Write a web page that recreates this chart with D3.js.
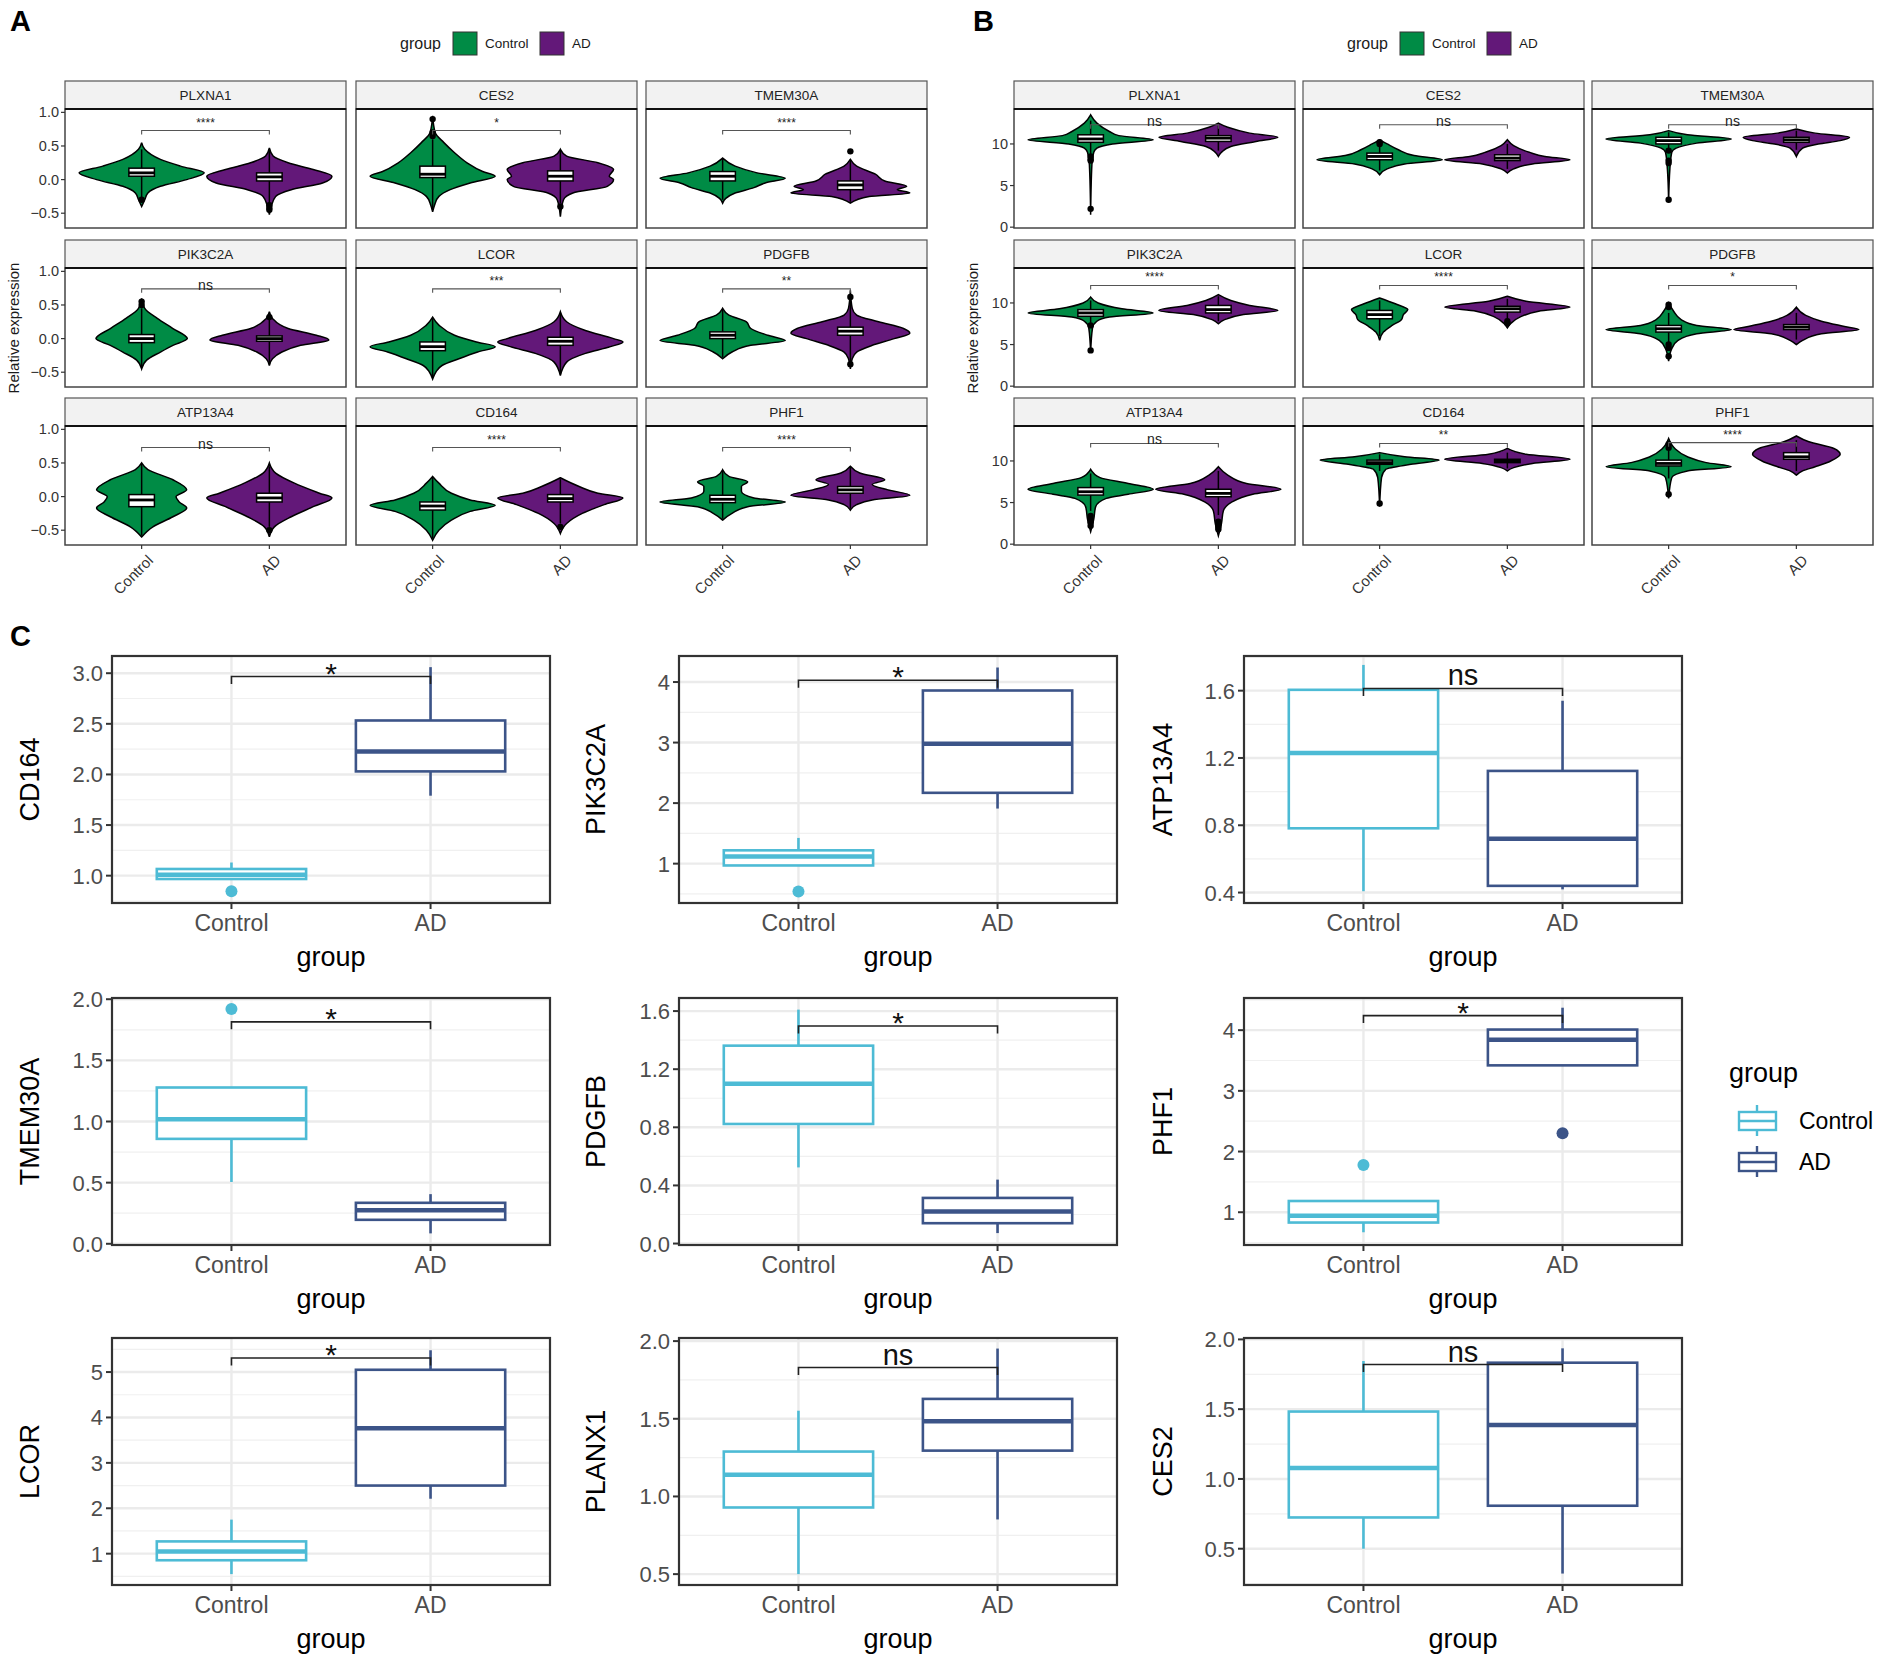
<!DOCTYPE html>
<html><head><meta charset="utf-8">
<script src="https://cdn.jsdelivr.net/npm/d3@7"></script>
<style>body{margin:0;background:#fff} text{font-family:"Liberation Sans",Arial,Helvetica,sans-serif}</style>
</head><body><script>
// ---------------- DATA ----------------
const groups = ["Control","AD"];
const genesAB = ["PLXNA1","CES2","TMEM30A","PIK3C2A","LCOR","PDGFB","ATP13A4","CD164","PHF1"];
const sigA = ["****","*","****","ns","***","**","ns","****","****"];
const sigB = ["ns","ns","ns","****","****","*","ns","**","****"];
const bracketA = [0.73,0.73,0.73,0.74,0.74,0.74,0.73,0.73,0.73];
const bracketB = [12.3,12.3,12.3,12.1,12.1,12.1,12.1,12.1,12.2];
const ticksA = [-0.5,0,0.5,1.0];
const tickLabelsA = ["\u22120.5","0.0","0.5","1.0"];
const ticksB = [0,5,10];
const tickLabelsB = ["0","5","10"];
const domainA = [-0.72,1.05];
const domainB = [-0.1,14.2];

// violin profiles: [value, relative half-width]
const A_ctrlViolin = [
 [[0.55,0],[0.45,0.05],[0.3,0.3],[0.2,0.62],[0.1,1],[0,0.72],[-0.1,0.3],[-0.2,0.1],[-0.3,0.05],[-0.4,0]],
 [[0.95,0],[0.7,0.04],[0.55,0.18],[0.4,0.35],[0.25,0.55],[0.12,0.8],[0.05,1],[-0.05,0.6],[-0.15,0.28],[-0.25,0.1],[-0.38,0.03],[-0.48,0]],
 [[0.32,0],[0.2,0.2],[0.1,0.55],[0.02,1],[-0.05,0.68],[-0.12,0.5],[-0.2,0.2],[-0.28,0.05],[-0.35,0]],
 [[0.6,0],[0.45,0.05],[0.3,0.25],[0.15,0.5],[0,0.73],[-0.1,0.5],[-0.2,0.3],[-0.32,0.08],[-0.45,0]],
 [[0.32,0],[0.2,0.1],[0.05,0.35],[-0.05,0.7],[-0.12,1],[-0.2,0.72],[-0.3,0.42],[-0.4,0.15],[-0.5,0.05],[-0.6,0]],
 [[0.45,0],[0.35,0.1],[0.25,0.38],[0.15,0.45],[0.05,0.72],[-0.03,1],[-0.1,0.45],[-0.2,0.15],[-0.3,0]],
 [[0.5,0],[0.4,0.1],[0.25,0.5],[0.1,0.72],[0,0.55],[-0.08,0.6],[-0.17,0.72],[-0.3,0.5],[-0.45,0.18],[-0.6,0]],
 [[0.3,0],[0.2,0.1],[0.05,0.3],[-0.05,0.6],[-0.13,1],[-0.22,0.6],[-0.35,0.3],[-0.5,0.1],[-0.65,0]],
 [[0.4,0],[0.3,0.1],[0.22,0.4],[0.15,0.3],[0.08,0.3],[-0.02,0.5],[-0.08,1],[-0.15,0.4],[-0.25,0.15],[-0.35,0]]
];
const A_adViolin = [
 [[0.47,0],[0.35,0.06],[0.25,0.3],[0.15,0.7],[0.05,1],[-0.05,0.85],[-0.15,0.35],[-0.25,0.1],[-0.4,0.03],[-0.52,0]],
 [[0.45,0],[0.35,0.1],[0.25,0.6],[0.15,0.85],[0.05,0.78],[0,0.85],[-0.1,0.75],[-0.2,0.2],[-0.3,0.05],[-0.55,0]],
 [[0.3,0],[0.2,0.1],[0.08,0.4],[-0.02,0.55],[-0.1,0.9],[-0.15,0.75],[-0.2,0.95],[-0.25,0.3],[-0.35,0]],
 [[0.4,0],[0.3,0.05],[0.15,0.3],[0.05,0.75],[-0.02,0.95],[-0.1,0.5],[-0.2,0.2],[-0.3,0.05],[-0.4,0]],
 [[0.4,0],[0.25,0.1],[0.12,0.4],[0,0.85],[-0.05,1],[-0.12,0.8],[-0.22,0.4],[-0.35,0.1],[-0.55,0]],
 [[0.72,0],[0.45,0.03],[0.35,0.1],[0.25,0.45],[0.15,0.85],[0.08,0.95],[0,0.7],[-0.1,0.35],[-0.2,0.1],[-0.3,0.03],[-0.45,0]],
 [[0.5,0],[0.35,0.1],[0.2,0.4],[0.05,0.8],[-0.02,1],[-0.15,0.7],[-0.3,0.35],[-0.45,0.08],[-0.6,0]],
 [[0.28,0],[0.15,0.3],[0.05,0.6],[-0.02,1],[-0.12,0.7],[-0.25,0.35],[-0.4,0.1],[-0.55,0]],
 [[0.45,0],[0.35,0.15],[0.25,0.55],[0.18,0.35],[0.1,0.6],[0.02,0.95],[-0.05,0.35],[-0.12,0.1],[-0.2,0]]
];
// box stats: [lower whisker, q1, median, q3, upper whisker]
const A_ctrlBox = [[-0.28,0.05,0.1,0.17,0.45],[-0.45,0.03,0.08,0.2,0.6],[-0.3,-0.02,0.05,0.12,0.3],[-0.42,-0.06,0,0.06,0.45],[-0.58,-0.18,-0.12,-0.05,0.3],[-0.28,0,0.05,0.1,0.43],[-0.58,-0.15,-0.05,0.03,0.48],[-0.62,-0.2,-0.14,-0.08,0.28],[-0.33,-0.09,-0.04,0.02,0.38]];
const A_adBox = [[-0.35,-0.02,0.04,0.1,0.45],[-0.35,-0.02,0.05,0.13,0.43],[-0.33,-0.15,-0.08,-0.02,0.3],[-0.38,-0.04,0,0.04,0.3],[-0.53,-0.1,-0.04,0.02,0.38],[-0.35,0.05,0.11,0.17,0.6],[-0.45,-0.08,-0.02,0.05,0.45],[-0.4,-0.08,-0.03,0.03,0.26],[-0.18,0.05,0.1,0.15,0.43]];
const A_ctrlOut = [[-0.3],[0.65,0.7,0.9],[],[0.5,0.55],[],[],[],[],[]];
const A_adOut = [[-0.38,-0.42,-0.45],[-0.4],[0.42],[0.32],[],[0.62,-0.38],[-0.5],[-0.45],[]];

const B_ctrlViolin = [
 [[13.5,0],[12.5,0.1],[11.5,0.3],[11,0.45],[10.5,1],[10,0.35],[9.5,0.1],[9,0.05],[7.5,0.02],[1.5,0]],
 [[10.5,0],[10,0.12],[9.3,0.3],[8.6,0.55],[8.1,1],[7.6,0.4],[7,0.12],[6.3,0]],
 [[11.6,0],[11.1,0.3],[10.6,1],[10.1,0.45],[9.5,0.12],[9,0.05],[7,0.02],[3,0]],
 [[10.7,0],[10,0.12],[9.3,0.5],[8.8,1],[8.3,0.3],[7.8,0.1],[7,0.03],[4,0]],
 [[10.6,0],[9.9,0.25],[9.2,0.45],[8.6,0.38],[8,0.35],[7.3,0.2],[6.5,0.06],[5.5,0]],
 [[10,0],[9,0.08],[8,0.2],[7.3,0.45],[6.8,1],[6.3,0.45],[5.5,0.15],[4.5,0.05],[3,0]],
 [[9,0],[8,0.15],[7.3,0.6],[6.6,1],[6,0.6],[5.5,0.25],[4.5,0.08],[3,0.05],[1.5,0]],
 [[11,0],[10.5,0.4],[10.1,0.95],[9.6,0.5],[9,0.1],[8,0.03],[4.5,0]],
 [[12.7,0],[11.5,0.1],[10.5,0.3],[9.8,0.6],[9.3,1],[8.8,0.3],[8,0.05],[5.5,0]]
];
const B_adViolin = [
 [[12.5,0],[12,0.15],[11.3,0.5],[10.8,0.95],[10.3,0.6],[9.7,0.2],[9,0.05],[8.5,0]],
 [[10.5,0],[9.8,0.1],[9,0.35],[8.5,0.6],[8.1,1],[7.6,0.4],[7,0.1],[6.5,0]],
 [[11.8,0],[11.3,0.3],[10.8,0.85],[10.4,0.7],[10,0.35],[9.5,0.1],[8.5,0]],
 [[11,0],[10.3,0.2],[9.7,0.5],[9.1,0.95],[8.6,0.4],[8,0.1],[7.5,0]],
 [[10.8,0],[10.2,0.3],[9.5,1],[9,0.5],[8.3,0.2],[7.5,0.05],[7,0]],
 [[9.5,0],[8.5,0.15],[7.8,0.4],[7.2,0.75],[6.8,1],[6.3,0.4],[5.5,0.1],[5,0]],
 [[9.3,0],[8.3,0.15],[7.3,0.45],[6.6,1],[6,0.55],[5,0.2],[4,0.08],[2.5,0.05],[1,0]],
 [[11.5,0],[10.8,0.3],[10.2,1],[9.7,0.4],[9.2,0.1],[8.8,0]],
 [[13,0],[12.3,0.2],[11.5,0.6],[10.8,0.7],[10,0.55],[9.3,0.3],[8.8,0.1],[8.3,0]]
];
const B_ctrlBox = [[8.5,10.2,10.6,11.1,12.8],[6.8,8.1,8.5,8.9,10],[9.4,10.0,10.4,10.8,11.4],[7.6,8.4,8.8,9.2,10.3],[6,8.1,8.6,9.1,10.3],[5.3,6.5,6.9,7.3,8.8],[4,5.9,6.3,6.8,8.5],[8.8,9.6,9.8,10.1,10.8],[7.9,9.4,9.7,10.1,11.3]];
const B_adBox = [[9.2,10.3,10.7,11,12.2],[7,8.0,8.3,8.7,10],[9.3,10.2,10.5,10.8,11.6],[7.8,8.8,9.2,9.7,10.8],[7.8,8.9,9.3,9.6,10.5],[5.6,6.8,7.1,7.4,8.8],[3.5,5.7,6.1,6.6,8.8],[9.1,9.8,10.0,10.2,11],[8.8,10.2,10.5,11,12.5]];
const B_ctrlOut = [[8.0,8.2,8.5,2.2],[10.2,10.0],[9.2,8.0,7.7,3.3],[7.3,4.3],[],[9.5,9.8,5.0,4.6,3.6],[2.2,2.6,3.0,3.4],[4.9],[6.0,11.6,12.0]];
const B_adOut = [[],[],[],[],[7.6,7.8],[],[1.8,2.1,2.4,2.7],[],[]];

// Panel C boxplots
const genesC = ["CD164","PIK3C2A","ATP13A4","TMEM30A","PDGFB","PHF1","LCOR","PLANX1","CES2"];
const sigC = ["*","*","ns","*","*","*","*","ns","ns"];
const C_ctrlBox = [[0.967,0.967,1.01,1.066,1.13],[0.97,0.97,1.12,1.22,1.425],[0.408,0.782,1.23,1.605,1.753],[0.505,0.858,1.018,1.278,1.278],[0.524,0.823,1.099,1.362,1.61],[0.67,0.83,0.94,1.185,1.185],[0.55,0.855,1.05,1.27,1.75],[0.5,0.929,1.14,1.289,1.552],[0.5,0.724,1.078,1.483,1.845]];
const C_adBox = [[1.79,2.03,2.227,2.533,3.06],[1.91,2.17,2.98,3.86,4.24],[0.419,0.44,0.72,1.123,1.54],[0.085,0.196,0.274,0.335,0.406],[0.072,0.14,0.22,0.314,0.44],[3.42,3.42,3.84,4.01,4.37],[2.21,2.5,3.76,5.05,5.48],[0.852,1.295,1.484,1.628,1.952],[0.322,0.808,1.387,1.833,1.936]];
const C_ctrlOut = [[0.845],[0.54],[],[1.92],[],[1.78],[],[],[]];
const C_adOut = [[],[],[],[],[],[2.3],[],[],[]];
const C_bracket = [2.967,4.03,1.613,1.815,1.497,4.24,5.31,1.83,1.82];
const C_domain = [[0.73,3.17],[0.35,4.43],[0.338,1.806],[-0.01,2.01],[-0.01,1.69],[0.46,4.53],[0.31,5.75],[0.43,2.02],[0.24,2.01]];
const C_ticks = [[1,1.5,2,2.5,3],[1,2,3,4],[0.4,0.8,1.2,1.6],[0,0.5,1,1.5,2],[0,0.4,0.8,1.2,1.6],[1,2,3,4],[1,2,3,4,5],[0.5,1,1.5,2],[0.5,1,1.5,2]];
const C_tickLabels = [["1.0","1.5","2.0","2.5","3.0"],["1","2","3","4"],["0.4","0.8","1.2","1.6"],["0.0","0.5","1.0","1.5","2.0"],["0.0","0.4","0.8","1.2","1.6"],["1","2","3","4"],["1","2","3","4","5"],["0.5","1.0","1.5","2.0"],["0.5","1.0","1.5","2.0"]];

// ---------------- STYLE / LAYOUT ----------------
const violinColors = {Control:"#008B45", AD:"#631879"};
const boxColors = {Control:"#4DBBD5", AD:"#3C5488"};
const W = 1893, H = 1660;
const svg = d3.select("body").append("svg").attr("width",W).attr("height",H);
svg.append("rect").attr("width",W).attr("height",H).attr("fill","#fff");

function panelLabel(t,x,y){
  svg.append("text").attr("x",x).attr("y",y).text(t)
    .attr("font-size",29).attr("font-weight","bold").attr("fill","#000");
}
panelLabel("A",10,31); panelLabel("B",973,31); panelLabel("C",10,646);

function violinLegend(x0){
  const g = svg.append("g");
  g.append("text").attr("x",x0).attr("y",49).text("group").attr("font-size",16).attr("fill","#1a1a1a");
  let x = x0+53;
  groups.forEach(k=>{
    g.append("rect").attr("x",x).attr("y",32).attr("width",24).attr("height",23)
      .attr("fill",violinColors[k]).attr("stroke","#333").attr("stroke-width",1);
    g.append("text").attr("x",x+32).attr("y",48).text(k).attr("font-size",13.5).attr("fill","#1a1a1a");
    x += 32 + (k==="Control"?55:0);
  });
}
violinLegend(400);
violinLegend(1347);

function drawViolinFacets(cfg){
  const colX = cfg.colX, rowTop=[81,240,398], pw=281, stripH=28, ph=119;
  const area = d3.area().curve(d3.curveMonotoneY);
  genesAB.forEach((gene,i)=>{
    const r=Math.floor(i/3), c=i%3;
    const x0=colX[c], sy=rowTop[r], py=sy+stripH;
    const x = d3.scalePoint().domain(groups).range([x0,x0+pw]).padding(0.6);
    const y = d3.scaleLinear().domain(cfg.domain).range([py+ph,py]);
    const step = x.step();
    const g = svg.append("g");
    g.append("rect").attr("x",x0).attr("y",sy).attr("width",pw).attr("height",stripH)
      .attr("fill","#F2F2F2").attr("stroke","#555").attr("stroke-width",1.2);
    g.append("text").attr("x",x0+pw/2).attr("y",sy+stripH/2+5).attr("text-anchor","middle")
      .text(gene).attr("font-size",13.5).attr("fill","#222");
    g.append("rect").attr("x",x0).attr("y",py).attr("width",pw).attr("height",ph)
      .attr("fill","#fff").attr("stroke","#444").attr("stroke-width",1.5);
    g.append("line").attr("x1",x0).attr("x2",x0+pw).attr("y1",py).attr("y2",py)
      .attr("stroke","#111").attr("stroke-width",2.2);
    const cl = "clip"+cfg.id+i;
    g.append("clipPath").attr("id",cl).append("rect").attr("x",x0).attr("y",py).attr("width",pw).attr("height",ph);
    const pg = g.append("g").attr("clip-path",`url(#${cl})`);
    const hw = 0.49*step, bw = 0.2*step;
    groups.forEach((grp,gi)=>{
      const cx = x(grp);
      const prof = (gi===0?cfg.ctrlV:cfg.adV)[i];
      const box = (gi===0?cfg.ctrlBox:cfg.adBox)[i];
      const outs = (gi===0?cfg.ctrlOut:cfg.adOut)[i];
      area.y(d=>y(d[0])).x0(d=>cx-d[1]*hw).x1(d=>cx+d[1]*hw);
      pg.append("path").attr("d",area(prof)).attr("fill",violinColors[grp])
        .attr("stroke","#000").attr("stroke-width",1.5);
      pg.append("line").attr("x1",cx).attr("x2",cx).attr("y1",y(box[0])).attr("y2",y(box[4]))
        .attr("stroke","#000").attr("stroke-width",1.5);
      pg.append("rect").attr("x",cx-bw/2).attr("width",bw).attr("y",y(box[3])).attr("height",y(box[1])-y(box[3]))
        .attr("fill","#fff").attr("stroke","#000").attr("stroke-width",1.5);
      pg.append("line").attr("x1",cx-bw/2).attr("x2",cx+bw/2).attr("y1",y(box[2])).attr("y2",y(box[2]))
        .attr("stroke","#000").attr("stroke-width",2.8);
      outs.forEach(o=>pg.append("circle").attr("cx",cx).attr("cy",y(o)).attr("r",3.2).attr("fill","#000"));
    });
    const by = y(cfg.bracket[i]);
    g.append("path").attr("d",`M${x("Control")},${by+4}V${by}H${x("AD")}V${by+4}`)
      .attr("fill","none").attr("stroke","#555").attr("stroke-width",1.1);
    const s = cfg.sig[i];
    g.append("text").attr("x",(x("Control")+x("AD"))/2).attr("y",s==="ns"?by+1:by-4).attr("text-anchor","middle")
      .text(s).attr("font-size",s==="ns"?14:12).attr("fill","#222");
    if(c===0){
      cfg.ticks.forEach((t,k)=>{
        g.append("line").attr("x1",x0-4).attr("x2",x0).attr("y1",y(t)).attr("y2",y(t)).attr("stroke","#333").attr("stroke-width",1.2);
        g.append("text").attr("x",x0-6).attr("y",y(t)+5).attr("text-anchor","end")
          .text(cfg.tickLabels[k]).attr("font-size",14.5).attr("fill","#333");
      });
    }
    if(r===2){
      groups.forEach(grp=>{
        const cx=x(grp), yb=py+ph;
        g.append("line").attr("x1",cx).attr("x2",cx).attr("y1",yb).attr("y2",yb+4).attr("stroke","#333").attr("stroke-width",1.2);
        g.append("text").attr("transform",`translate(${cx+5},${yb+9}) rotate(-45)`)
          .attr("text-anchor","end").attr("dy","0.7em").text(grp).attr("font-size",15).attr("fill","#333");
      });
    }
  });
  svg.append("text").attr("transform",`translate(${cfg.titleX},328) rotate(-90)`)
    .attr("text-anchor","middle").text("Relative expression").attr("font-size",15).attr("fill","#1a1a1a");
}

drawViolinFacets({id:"A",colX:[65,356,646],domain:domainA,ticks:ticksA,tickLabels:tickLabelsA,
  ctrlV:A_ctrlViolin,adV:A_adViolin,ctrlBox:A_ctrlBox,adBox:A_adBox,ctrlOut:A_ctrlOut,adOut:A_adOut,
  sig:sigA,bracket:bracketA,titleX:19});
drawViolinFacets({id:"B",colX:[1014,1303,1592],domain:domainB,ticks:ticksB,tickLabels:tickLabelsB,
  ctrlV:B_ctrlViolin,adV:B_adViolin,ctrlBox:B_ctrlBox,adBox:B_adBox,ctrlOut:B_ctrlOut,adOut:B_adOut,
  sig:sigB,bracket:bracketB,titleX:978});

// ---------------- Panel C ----------------
(function(){
  const colX=[112,679,1244], rowY=[656,998,1338], pw=438, ph=247;
  const titleX=[30,596,1163];
  genesC.forEach((gene,i)=>{
    const r=Math.floor(i/3), c=i%3;
    const x0=colX[c], y0=rowY[r];
    const x = d3.scalePoint().domain(groups).range([x0,x0+pw]).padding(0.6);
    const y = d3.scaleLinear().domain(C_domain[i]).range([y0+ph,y0]);
    const step=x.step(), bw=0.75*step;
    const g=svg.append("g");
    const cl="clipC"+i;
    g.append("clipPath").attr("id",cl).append("rect").attr("x",x0).attr("y",y0).attr("width",pw).attr("height",ph);
    const pg=g.append("g").attr("clip-path",`url(#${cl})`);
    const ticks=C_ticks[i], dt=ticks[1]-ticks[0];
    const minor=[ticks[0]-dt/2].concat(ticks.map(t=>t+dt/2));
    minor.forEach(t=>pg.append("line").attr("x1",x0).attr("x2",x0+pw).attr("y1",y(t)).attr("y2",y(t)).attr("stroke","#F0F0F0").attr("stroke-width",1.2));
    ticks.forEach(t=>pg.append("line").attr("x1",x0).attr("x2",x0+pw).attr("y1",y(t)).attr("y2",y(t)).attr("stroke","#EBEBEB").attr("stroke-width",2.4));
    groups.forEach(grp=>pg.append("line").attr("x1",x(grp)).attr("x2",x(grp)).attr("y1",y0).attr("y2",y0+ph).attr("stroke","#EBEBEB").attr("stroke-width",2.4));
    groups.forEach((grp,gi)=>{
      const cx=x(grp), col=boxColors[grp];
      const b=(gi===0?C_ctrlBox:C_adBox)[i];
      const outs=(gi===0?C_ctrlOut:C_adOut)[i];
      pg.append("line").attr("x1",cx).attr("x2",cx).attr("y1",y(b[3])).attr("y2",y(b[4])).attr("stroke",col).attr("stroke-width",2.6);
      pg.append("line").attr("x1",cx).attr("x2",cx).attr("y1",y(b[1])).attr("y2",y(b[0])).attr("stroke",col).attr("stroke-width",2.6);
      pg.append("rect").attr("x",cx-bw/2).attr("width",bw).attr("y",y(b[3])).attr("height",Math.max(1,y(b[1])-y(b[3])))
        .attr("fill","#fff").attr("stroke",col).attr("stroke-width",2.6);
      pg.append("line").attr("x1",cx-bw/2).attr("x2",cx+bw/2).attr("y1",y(b[2])).attr("y2",y(b[2])).attr("stroke",col).attr("stroke-width",4.5);
      outs.forEach(o=>pg.append("circle").attr("cx",cx).attr("cy",y(o)).attr("r",6).attr("fill",col));
    });
    const by=y(C_bracket[i]), tip=0.03*ph;
    g.append("path").attr("d",`M${x("Control")},${by+tip}V${by}H${x("AD")}V${by+tip}`)
      .attr("fill","none").attr("stroke","#222").attr("stroke-width",1.6);
    const s=sigC[i];
    g.append("text").attr("x",(x("Control")+x("AD"))/2).attr("y",s==="ns"?by-3:by+7).attr("text-anchor","middle")
      .text(s).attr("font-size",s==="ns"?29:30).attr("fill","#111");
    g.append("rect").attr("x",x0).attr("y",y0).attr("width",pw).attr("height",ph).attr("fill","none").attr("stroke","#333").attr("stroke-width",2.2);
    ticks.forEach((t,k)=>{
      g.append("line").attr("x1",x0-6).attr("x2",x0).attr("y1",y(t)).attr("y2",y(t)).attr("stroke","#333").attr("stroke-width",2);
      g.append("text").attr("x",x0-9).attr("y",y(t)+8).attr("text-anchor","end").text(C_tickLabels[i][k])
        .attr("font-size",22).attr("fill","#4D4D4D");
    });
    groups.forEach(grp=>{
      g.append("line").attr("x1",x(grp)).attr("x2",x(grp)).attr("y1",y0+ph).attr("y2",y0+ph+6).attr("stroke","#333").attr("stroke-width",2);
      g.append("text").attr("x",x(grp)).attr("y",y0+ph+28).attr("text-anchor","middle").text(grp)
        .attr("font-size",23).attr("fill","#4D4D4D");
    });
    g.append("text").attr("x",x0+pw/2).attr("y",y0+ph+63).attr("text-anchor","middle").text("group")
      .attr("font-size",27).attr("fill","#000");
    g.append("text").attr("transform",`translate(${titleX[c]+9},${y0+ph/2}) rotate(-90)`).attr("text-anchor","middle")
      .text(gene).attr("font-size",27).attr("fill","#000");
  });
  const lg=svg.append("g");
  lg.append("text").attr("x",1729).attr("y",1082).text("group").attr("font-size",27).attr("fill","#000");
  groups.forEach((grp,gi)=>{
    const ky=1110+gi*41, col=boxColors[grp];
    lg.append("line").attr("x1",1757).attr("x2",1757).attr("y1",ky-5).attr("y2",ky+26).attr("stroke",col).attr("stroke-width",2.4);
    lg.append("rect").attr("x",1739).attr("y",ky+2).attr("width",37).attr("height",18).attr("fill","#fff").attr("stroke",col).attr("stroke-width",2.4);
    lg.append("line").attr("x1",1739).attr("x2",1776).attr("y1",ky+11).attr("y2",ky+11).attr("stroke",col).attr("stroke-width",2.4);
    lg.append("text").attr("x",1799).attr("y",ky+19).text(grp).attr("font-size",23).attr("fill","#000");
  });
})();
</script></body></html>
